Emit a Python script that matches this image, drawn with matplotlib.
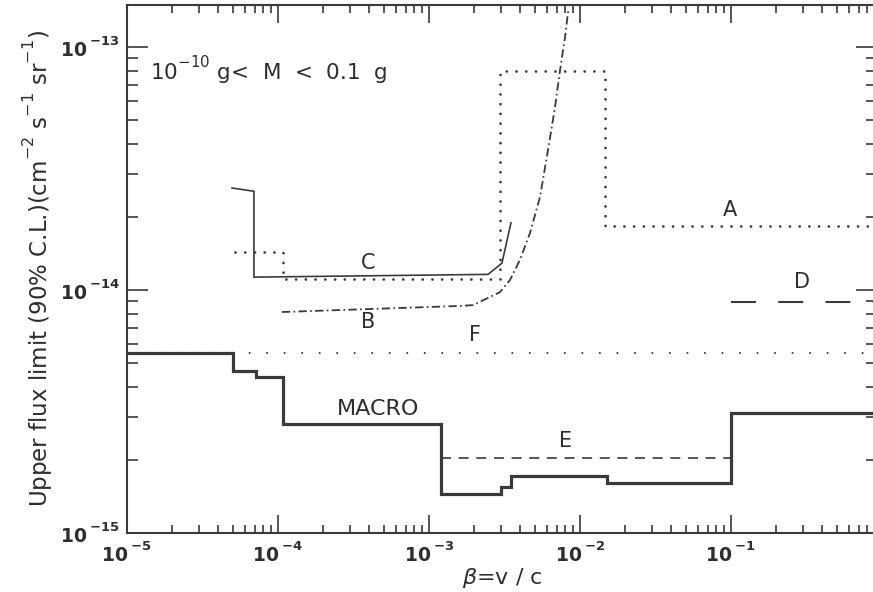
import numpy as np
import matplotlib
matplotlib.use("Agg")
import matplotlib.pyplot as plt
from matplotlib.ticker import FixedLocator, FuncFormatter, NullFormatter

plt.rcParams['font.family'] = ['DejaVu Sans']
plt.rcParams['mathtext.fontset'] = 'dejavusans'
plt.rcParams['lines.scale_dashes'] = False

# raise superscripts a little higher than the mathtext default
try:
    import matplotlib._mathtext as _mt
    _mt.DejaVuSansFontConstants.subdrop = -0.5
    _mt.DejaVuSansFontConstants.sup1 = 1.0
except Exception:
    pass

INK = '#3a3a3a'
TXT = '#2e2e2e'

# ---- MACRO limit (step function over beta bins) ----
macro_beta = [1e-5, 5.0e-5, 7.1e-5, 1.08e-4, 1.2e-3, 3.0e-3, 3.5e-3, 1.51e-2, 0.1, 0.93]
macro_flux = [5.5e-15, 4.65e-15, 4.4e-15, 2.8e-15, 1.45e-15, 1.55e-15, 1.72e-15, 1.60e-15, 3.11e-15]

# ---- A (dotted steps) ----
a_beta = [5.2e-5, 1.08e-4, 2.95e-3, 1.46e-2, 0.93]
a_flux = [1.43e-14, 1.11e-14, 7.96e-14, 1.83e-14]

# ---- B (dash-dot curve) ----
b_beta = [1.06e-4, 1.60e-3, 1.96e-3, 2.95e-3, 3.44e-3, 4.0e-3, 4.67e-3, 5.43e-3,
          6.14e-3, 6.83e-3, 7.38e-3, 7.96e-3, 8.4e-3]
b_flux = [8.12e-15, 8.6e-15, 8.67e-15, 9.8e-15, 1.10e-14, 1.33e-14, 1.72e-14, 2.41e-14,
          3.77e-14, 5.66e-14, 8.04e-14, 1.10e-13, 1.45e-13]

# ---- C (thin solid) ----
c_beta = [4.96e-5, 6.93e-5, 6.93e-5, 2.46e-3, 3.04e-3, 3.49e-3]
c_flux = [2.63e-14, 2.55e-14, 1.13e-14, 1.16e-14, 1.29e-14, 1.89e-14]

# ---- D (long dashes) ----
d_beta = [0.1, 0.93]
d_flux = [8.9e-15, 8.9e-15]

# ---- E (dashed) ----
e_beta = [1.2e-3, 0.1]
e_flux = [2.04e-15, 2.04e-15]

# ---- F (sparse dots) ----
f_beta = [1e-5, 0.93]
f_flux = [5.5e-15, 5.5e-15]

# curve labels: (text, beta, flux)
curve_labels = [('C', 3.94e-4, 1.29e-14), ('B', 3.94e-4, 7.38e-15),
                ('F', 2.02e-3, 6.53e-15), ('A', 0.0985, 2.13e-14),
                ('D', 0.295, 1.08e-14), ('MACRO', 4.6e-4, 3.24e-15),
                ('E', 8.07e-3, 2.39e-15)]

x_min, x_max = 1e-5, 0.9266
y_min, y_max = 1e-15, 1.49e-13
x_major = [1e-5, 1e-4, 1e-3, 1e-2, 1e-1]
y_major = [1e-15, 1e-14, 1e-13]

fig = plt.figure(figsize=(8.73, 5.92), dpi=100)
ax = fig.add_axes([127 / 873, 59 / 592, 750 / 873, 528 / 592])
ax.set_xscale('log')
ax.set_yscale('log')
ax.set_xlim(x_min, x_max)
ax.set_ylim(y_min, y_max)

# curves
ax.plot(f_beta, f_flux, color=INK, lw=1.5, linestyle=(0, (0.01, 12.6)),
        dash_capstyle='round')
ax.plot(a_beta, a_flux + [a_flux[-1]], drawstyle='steps-post', color=INK, lw=2.0,
        linestyle=(0, (0.01, 7.0)), dash_capstyle='round')
ax.plot(c_beta, c_flux, color=INK, lw=1.2, solid_joinstyle='miter')
ax.plot(b_beta, b_flux, color=INK, lw=1.3,
        linestyle=(0, (6.0, 2.4, 1.2, 2.4)))
ax.plot(d_beta, d_flux, color=INK, lw=1.5, linestyle=(0, (18.0, 16.0)))
ax.plot(e_beta, e_flux, color=INK, lw=1.2, linestyle=(0, (7.2, 5.5)))
ax.plot(macro_beta, macro_flux + [macro_flux[-1]], drawstyle='steps-post',
        color=INK, lw=2.3, solid_joinstyle='miter')

for txt, bx, fy in curve_labels:
    ax.text(bx, fy, txt, color=TXT, fontsize=16 if txt == 'MACRO' else 15,
            ha='center', va='center')

ax.text(0.031, 0.86, r'10$^{-10}$ g<  M  <  0.1  g', transform=ax.transAxes,
        color=TXT, fontsize=15.5, ha='left', va='baseline')

# axes styling
for s in ax.spines.values():
    s.set_linewidth(1.5)
    s.set_color(INK)


def minor_positions(lo, hi):
    out = []
    for e in range(lo, hi + 1):
        for m in range(2, 10):
            out.append(m * 10.0 ** e)
    return out


ax.xaxis.set_major_locator(FixedLocator(x_major))
ax.xaxis.set_minor_locator(FixedLocator([v for v in minor_positions(-5, -1) if v < x_max]))
ax.yaxis.set_major_locator(FixedLocator(y_major))
ax.yaxis.set_minor_locator(FixedLocator([v for v in minor_positions(-15, -13) if v < y_max]))


def pow_label(v, pos):
    e = int(round(np.log10(v)))
    return r'$\mathbf{10}^{\;\mathbf{%d}}$' % e


ax.xaxis.set_major_formatter(FuncFormatter(pow_label))
ax.yaxis.set_major_formatter(FuncFormatter(pow_label))
ax.xaxis.set_minor_formatter(NullFormatter())
ax.yaxis.set_minor_formatter(NullFormatter())

ax.tick_params(axis='both', which='both', direction='in', top=True, right=True,
               color=INK, width=1.2, labelcolor=TXT, labelsize=13.5)
ax.tick_params(axis='x', which='major', length=13, pad=6)
ax.tick_params(axis='x', which='minor', length=6)
ax.tick_params(axis='y', which='major', length=15, pad=5)
ax.tick_params(axis='y', which='minor', length=8)

ax.set_xlabel(r'$\beta$=v / c', fontsize=16, color=TXT, labelpad=0)
ax.set_ylabel(r'Upper flux limit (90% C.L.)(cm$^{-2}$ s$^{-1}$ sr$^{-1}$)',
              fontsize=16.5, color=TXT, labelpad=3)

fig.savefig('out.png', dpi=100, facecolor='white')
